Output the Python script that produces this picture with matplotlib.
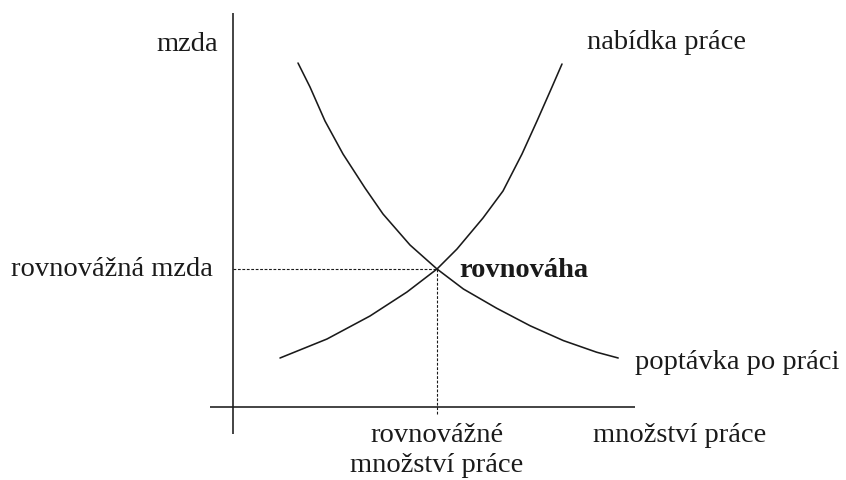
import matplotlib
matplotlib.use("Agg")
import matplotlib.pyplot as plt

# Data (quantity of labour, wage)
supply_q = [1.175, 2.35, 3.425, 4.35, 5.1, 5.6, 6.25, 6.75, 7.225, 7.6, 7.975, 8.225]
supply_w = [1.225, 1.7, 2.275, 2.875, 3.45, 3.95, 4.725, 5.4, 6.325, 7.15, 8.0, 8.575]
demand_q = [1.625, 1.925, 2.3, 2.75, 3.3, 3.75, 4.425, 5.1, 5.76, 6.59, 7.43, 8.26, 9.09, 9.63]
demand_w = [8.6, 8.0, 7.15, 6.325, 5.475, 4.825, 4.05, 3.45, 2.95, 2.47, 2.03, 1.66, 1.37, 1.225]
eq_q = 5.1
eq_w = 3.45

labels = {
    "y_axis": "mzda",
    "x_axis": "množství práce",
    "supply": "nabídka práce",
    "demand": "poptávka po práci",
    "eq_wage": "rovnovážná mzda",
    "eq_qty1": "rovnovážné",
    "eq_qty2": "množství práce",
    "eq": "rovnováha",
}

plt.rcParams['font.family'] = ['Liberation Serif', 'DejaVu Serif']
col = '#1a1a1a'
fs = 20.5

fig = plt.figure(figsize=(8.46, 4.81), dpi=100)
ax = fig.add_axes([0, 0, 1, 1])
ax.set_xlim(-5.825, 15.325)
ax.set_ylim(-1.825, 10.2)
ax.axis('off')

# axes lines
ax.plot([0, 0], [-0.675, 9.85], color=col, lw=1.15, solid_capstyle='butt')
ax.plot([-0.575, 10.05], [0, 0], color=col, lw=1.15, solid_capstyle='butt')

# curves
ax.plot(supply_q, supply_w, color=col, lw=1.15, solid_joinstyle='round', solid_capstyle='round')
ax.plot(demand_q, demand_w, color=col, lw=1.15, solid_joinstyle='round', solid_capstyle='round')

# dashed guides
ax.plot([0, eq_q], [eq_w, eq_w], color=col, lw=0.8, linestyle=(0, (2.5, 1.5)))
ax.plot([eq_q, eq_q], [eq_w, -0.175], color=col, lw=0.8, linestyle=(0, (2.5, 1.5)))

# texts
ax.text(-0.375, 8.93, labels["y_axis"], ha='right', va='baseline', fontsize=fs, color=col)
ax.text(-0.5, 3.3, labels["eq_wage"], ha='right', va='baseline', fontsize=fs, color=col)
ax.text(8.85, 8.97, labels["supply"], ha='left', va='baseline', fontsize=fs, color=col)
ax.text(10.05, 0.975, labels["demand"], ha='left', va='baseline', fontsize=fs, color=col)
ax.text(9.0, -0.84, labels["x_axis"], ha='left', va='baseline', fontsize=fs, color=col)
ax.text(eq_q, -0.84, labels["eq_qty1"], ha='center', va='baseline', fontsize=fs, color=col)
ax.text(eq_q, -1.59, labels["eq_qty2"], ha='center', va='baseline', fontsize=fs, color=col)
ax.text(5.65, 3.28, labels["eq"], ha='left', va='baseline', fontsize=fs, color=col, fontweight='bold')

fig.savefig("out.png", dpi=100)
